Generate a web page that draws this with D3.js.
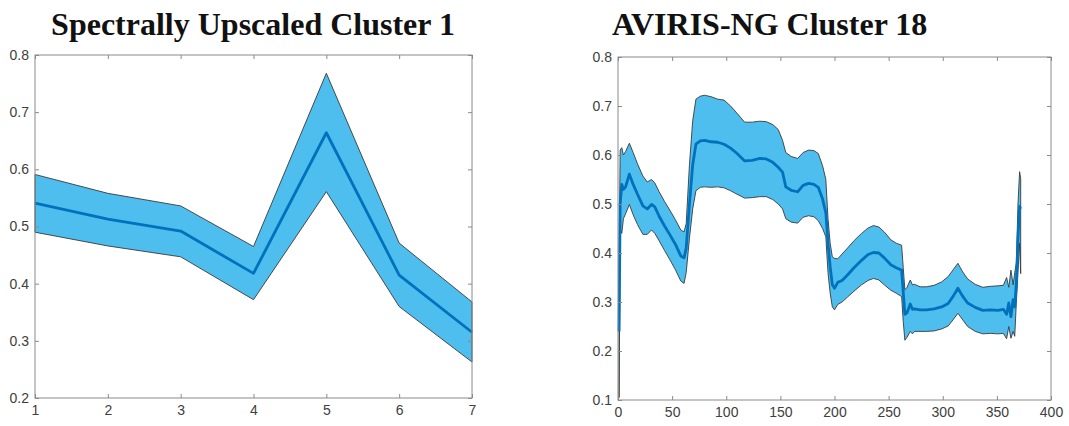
<!DOCTYPE html>
<html>
<head>
<meta charset="utf-8">
<script src="https://cdnjs.cloudflare.com/ajax/libs/d3/7.8.5/d3.min.js"></script>
<style>
  body { margin: 0; background: #fff; }
  .tick text { font-family: "Liberation Sans", Arial, sans-serif; font-size: 14px; fill: #404040; }
  .tick line { stroke: #8a8a8a; }
</style>
</head>
<body>
<div id="chart"></div>
<script>

// left panel: spectrally upscaled, 7 bands
var bands1 = [1, 2, 3, 4, 5, 6, 7];
var mean1  = [0.541, 0.513, 0.492, 0.418, 0.664, 0.415, 0.315];
var upper1 = [0.591, 0.558, 0.536, 0.465, 0.768, 0.471, 0.368];
var lower1 = [0.490, 0.466, 0.447, 0.372, 0.561, 0.360, 0.263];
var xTicks1 = [1, 2, 3, 4, 5, 6, 7];
var yTicks1 = [0.2, 0.3, 0.4, 0.5, 0.6, 0.7, 0.8];

// right panel: AVIRIS-NG bands
var bands2 = [1, 2, 3.5, 5, 7, 10.5, 14, 18, 23, 27, 31, 34, 38, 43, 48, 53, 58, 61, 63, 66,
  69, 72, 76, 80, 86, 92, 98, 104, 110, 117, 124, 131, 137, 143, 148, 152, 155, 160, 166, 171,
  176, 181, 185, 189, 192, 194, 196, 198, 200, 203, 207, 212, 218, 225, 231, 236, 241, 246, 252, 257,
  262, 263.5, 265, 267, 270, 272, 274, 279, 285, 292, 299, 305, 310, 314, 318, 323, 330, 337, 344, 351,
  356, 359, 361, 363, 365, 366.5, 368, 369.5, 371, 372];
var mean2 = [0.24, 0.50, 0.54, 0.53, 0.535, 0.561, 0.540, 0.520, 0.496, 0.490, 0.499, 0.494, 0.475, 0.455, 0.437, 0.418, 0.394, 0.390, 0.41, 0.50,
  0.58, 0.622, 0.629, 0.630, 0.627, 0.626, 0.622, 0.614, 0.603, 0.588, 0.589, 0.593, 0.592, 0.585, 0.575, 0.565, 0.535, 0.528, 0.525, 0.538,
  0.542, 0.540, 0.534, 0.510, 0.482, 0.420, 0.372, 0.335, 0.328, 0.340, 0.344, 0.355, 0.370, 0.385, 0.397, 0.401, 0.400, 0.390, 0.376, 0.370,
  0.365, 0.320, 0.275, 0.278, 0.296, 0.285, 0.286, 0.284, 0.284, 0.286, 0.290, 0.297, 0.313, 0.328, 0.313, 0.298, 0.289, 0.283, 0.284, 0.283,
  0.285, 0.275, 0.298, 0.270, 0.305, 0.290, 0.340, 0.430, 0.495, 0.490];
var upper2 = [0.38, 0.61, 0.615, 0.60, 0.607, 0.624, 0.605, 0.582, 0.557, 0.545, 0.550, 0.543, 0.525, 0.505, 0.487, 0.468, 0.447, 0.443, 0.46, 0.58,
  0.67, 0.714, 0.720, 0.722, 0.719, 0.714, 0.712, 0.700, 0.685, 0.667, 0.667, 0.669, 0.668, 0.662, 0.652, 0.630, 0.605, 0.597, 0.593, 0.605,
  0.610, 0.609, 0.603, 0.578, 0.550, 0.470, 0.420, 0.392, 0.389, 0.388, 0.398, 0.410, 0.425, 0.440, 0.451, 0.456, 0.453, 0.443, 0.427, 0.420,
  0.416, 0.370, 0.325, 0.330, 0.345, 0.335, 0.336, 0.331, 0.331, 0.334, 0.341, 0.352, 0.367, 0.379, 0.363, 0.347, 0.336, 0.330, 0.332, 0.333,
  0.334, 0.350, 0.330, 0.365, 0.335, 0.360, 0.380, 0.500, 0.566, 0.552];
var lower2 = [0.105, 0.45, 0.44, 0.47, 0.48, 0.499, 0.478, 0.458, 0.438, 0.438, 0.447, 0.440, 0.425, 0.405, 0.386, 0.366, 0.343, 0.338, 0.36, 0.43,
  0.49, 0.527, 0.534, 0.535, 0.534, 0.535, 0.533, 0.527, 0.520, 0.512, 0.513, 0.515, 0.515, 0.509, 0.500, 0.490, 0.470, 0.463, 0.461, 0.473,
  0.476, 0.474, 0.466, 0.450, 0.433, 0.360, 0.318, 0.290, 0.284, 0.295, 0.300, 0.310, 0.322, 0.335, 0.344, 0.348, 0.345, 0.335, 0.324, 0.318,
  0.311, 0.260, 0.222, 0.228, 0.240, 0.235, 0.240, 0.240, 0.240, 0.241, 0.245, 0.251, 0.265, 0.277, 0.265, 0.250, 0.240, 0.235, 0.236, 0.235,
  0.236, 0.225, 0.250, 0.226, 0.240, 0.230, 0.300, 0.360, 0.420, 0.358];
var xTicks2 = [0, 50, 100, 150, 200, 250, 300, 350, 400];
var yTicks2 = [0.1, 0.2, 0.3, 0.4, 0.5, 0.6, 0.7, 0.8];

var fillColor = "#4dbeee";
var lineColor = "#0072bd";

var svg = d3.select("#chart").append("svg")
            .attr("width", 1069)
            .attr("height", 426);

function drawPanel(p) {

  var x = d3.scaleLinear().domain(p.xDomain).range([p.left, p.right]);
  var y = d3.scaleLinear().domain(p.yDomain).range([p.bottom, p.top]);

  var g = svg.append("g");

  // shaded band, outlined like a matlab fill
  var pts = p.bands.map((b, i) => [x(b), y(p.upper[i])])
                   .concat(p.bands.map((b, i) => [x(b), y(p.lower[i])]).reverse());
  g.append("path")
   .attr("d", d3.line()(pts) + "Z")
   .attr("fill", fillColor)
   .attr("stroke", "#3a3a3a")
   .attr("stroke-width", 0.9)
   .attr("stroke-linejoin", "round");

  g.append("path")
   .datum(p.mean)
   .attr("d", d3.line().x((d, i) => x(p.bands[i])).y(d => y(d)))
   .attr("fill", "none")
   .attr("stroke", lineColor)
   .attr("stroke-width", 2.8)
   .attr("stroke-linejoin", "round");

  // axes, ticks pointing inward on all four sides
  g.append("g")
   .attr("transform", "translate(0," + p.bottom + ")")
   .call(d3.axisBottom(x).tickValues(p.xTicks).tickSizeInner(-4).tickSizeOuter(0).tickPadding(7).tickFormat(d3.format("d")))
   .call(a => a.select(".domain").remove());
  g.append("g")
   .attr("transform", "translate(0," + p.top + ")")
   .call(d3.axisTop(x).tickValues(p.xTicks).tickSizeInner(-4).tickSizeOuter(0).tickFormat(""))
   .call(a => a.select(".domain").remove());
  g.append("g")
   .attr("transform", "translate(" + p.left + ",0)")
   .call(d3.axisLeft(y).tickValues(p.yTicks).tickSizeInner(-4).tickSizeOuter(0).tickPadding(6).tickFormat(d3.format(".1f")))
   .call(a => a.select(".domain").remove());
  g.append("g")
   .attr("transform", "translate(" + p.right + ",0)")
   .call(d3.axisRight(y).tickValues(p.yTicks).tickSizeInner(-4).tickSizeOuter(0).tickFormat(""))
   .call(a => a.select(".domain").remove());

  g.append("rect")
   .attr("x", p.left).attr("y", p.top)
   .attr("width", p.right - p.left).attr("height", p.bottom - p.top)
   .attr("fill", "none")
   .attr("stroke", "#8a8a8a")
   .attr("stroke-width", 1);

  svg.append("text")
     .attr("x", p.titleX)
     .attr("y", 35)
     .attr("text-anchor", p.titleAnchor)
     .attr("font-family", "'Liberation Serif', 'Times New Roman', serif")
     .attr("font-weight", "bold")
     .attr("font-size", 32)
     .attr("fill", "#111")
     .text(p.title);
}

drawPanel({
  title: "Spectrally Upscaled Cluster 1", titleX: 253, titleAnchor: "middle",
  left: 35, right: 472, top: 55, bottom: 398,
  xDomain: [1, 7], yDomain: [0.2, 0.8],
  bands: bands1, mean: mean1, upper: upper1, lower: lower1,
  xTicks: xTicks1, yTicks: yTicks1
});

drawPanel({
  title: "AVIRIS-NG Cluster 18", titleX: 612, titleAnchor: "start",
  left: 618, right: 1051, top: 57, bottom: 400,
  xDomain: [0, 400], yDomain: [0.1, 0.8],
  bands: bands2, mean: mean2, upper: upper2, lower: lower2,
  xTicks: xTicks2, yTicks: yTicks2
});

</script>
</body>
</html>
